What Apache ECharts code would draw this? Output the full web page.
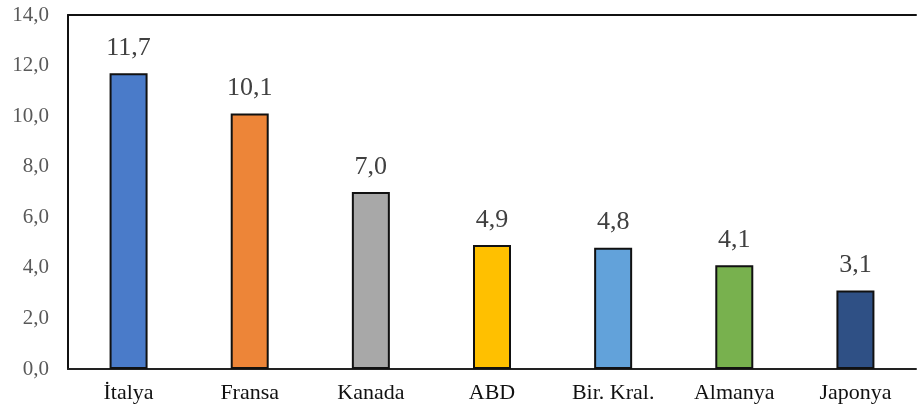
<!DOCTYPE html>
<html><head><meta charset="utf-8">
<script src="https://cdn.jsdelivr.net/npm/echarts@6/dist/echarts.min.js"></script>
<style>html,body{margin:0;padding:0;background:#fff}#c{width:919px;height:414px}</style>
</head><body><div id="c"></div>
<script>
const categories = ['İtalya','Fransa','Kanada','ABD','Bir. Kral.','Almanya','Japonya'];
const values = [11.7, 10.1, 7.0, 4.9, 4.8, 4.1, 3.1];
const colors = ['#4A7BC9','#ED8538','#A8A8A8','#FFC000','#62A2DA','#78B14E','#2F5085'];
const yTicks = [0,2,4,6,8,10,12,14];
const fmt = v => v.toFixed(1).replace('.', ',');
const chart = echarts.init(document.getElementById('c'));
chart.setOption({
  animation:false,
  grid:{left:68,right:3,top:15,bottom:45},
  xAxis:[{type:'category',data:categories,
    axisLine:{lineStyle:{color:'#222',width:2}},axisTick:{show:false},
    axisLabel:{color:'#111',fontFamily:'Liberation Serif',fontSize:22,margin:13}},
   {type:'category',position:'top',data:categories,
    axisLine:{lineStyle:{color:'#111',width:2}},axisTick:{show:false},axisLabel:{show:false}}],
  yAxis:{type:'value',min:yTicks[0],max:yTicks[yTicks.length-1],interval:2,
    axisLine:{show:true,lineStyle:{color:'#111',width:2}},axisTick:{show:false},splitLine:{show:false},
    axisLabel:{color:'#595959',fontFamily:'Liberation Serif',fontSize:21,margin:19,formatter:fmt}},
  series:[{type:'bar',barWidth:38,
    data:values.map((v,i)=>({value:v,itemStyle:{color:colors[i]}})),
    itemStyle:{borderColor:'#111',borderWidth:2},
    label:{show:true,position:'top',distance:12,color:'#404040',fontFamily:'Liberation Serif',fontSize:26,formatter:p=>fmt(p.value)}}]
});
</script></body></html>
